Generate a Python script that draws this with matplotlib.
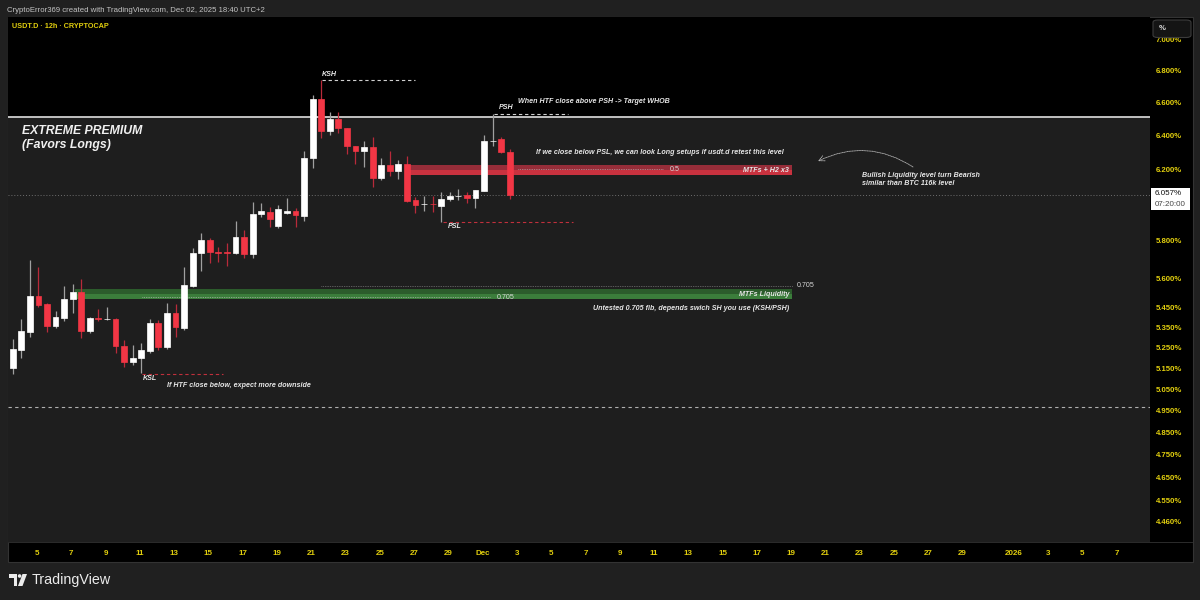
import numpy as np
import matplotlib
matplotlib.use("Agg")
import matplotlib.pyplot as plt
import matplotlib.patches as mpatches
from matplotlib import font_manager
from matplotlib.ticker import FixedLocator, NullLocator, FuncFormatter

# pick a narrow font if there is one (tradingview text is condensed)
names = {f.name for f in font_manager.fontManager.ttflist}
NARROW = 'Liberation Sans Narrow' if 'Liberation Sans Narrow' in names else 'Liberation Sans'

# USDT.D 12h candles, x in days (Nov 1 = 1, Dec 1 = 31, Jan 1 = 62)
t0 = 3 + 2 / 24
opens = [4.985, 5.151, 5.240, 5.327, 5.509, 5.468, 5.357, 5.397, 5.494, 5.530,
         5.332, 5.398, 5.391, 5.392, 5.257, 5.179, 5.199, 5.233, 5.372, 5.253,
         5.422, 5.347, 5.561, 5.735, 5.805, 5.741, 5.740, 5.735, 5.821, 5.730,
         5.945, 5.960, 5.880, 5.955, 5.962, 5.937, 6.267, 6.623, 6.427, 6.500,
         6.445, 6.338, 6.308, 6.332, 6.151, 6.226, 6.191, 6.232, 6.026, 6.002,
         6.006, 5.992, 6.032, 6.048, 6.054, 6.037, 6.077, 6.366, 6.379, 6.302]
highs = [5.160, 5.292, 5.392, 5.697, 5.660, 5.473, 5.432, 5.561, 5.571, 5.597,
         5.402, 5.442, 5.453, 5.397, 5.287, 5.262, 5.272, 5.392, 5.387, 5.473,
         5.468, 5.660, 5.762, 5.843, 5.816, 5.767, 5.789, 5.909, 5.860, 6.015,
         6.010, 5.985, 6.000, 6.040, 5.981, 6.308, 6.647, 6.741, 6.543, 6.543,
         6.445, 6.338, 6.368, 6.391, 6.267, 6.308, 6.256, 6.279, 6.043, 6.049,
         6.049, 6.071, 6.071, 6.088, 6.071, 6.083, 6.403, 6.530, 6.391, 6.320]
lows = [4.980, 5.122, 5.199, 5.302, 5.453, 5.327, 5.347, 5.382, 5.422, 5.297,
        5.322, 5.382, 5.387, 5.223, 5.155, 5.165, 5.127, 5.223, 5.238, 5.243,
        5.302, 5.337, 5.556, 5.639, 5.682, 5.687, 5.666, 5.730, 5.708, 5.708,
        5.930, 5.875, 5.870, 5.950, 5.876, 5.909, 6.209, 6.385, 6.403, 6.415,
        6.291, 6.232, 6.215, 6.100, 6.140, 6.163, 6.145, 6.015, 5.953, 5.964,
        5.959, 5.903, 6.020, 6.026, 6.009, 5.981, 6.077, 6.338, 6.297, 6.032]
closes = [5.151, 5.243, 5.332, 5.509, 5.463, 5.357, 5.402, 5.494, 5.530, 5.332,
          5.397, 5.392, 5.393, 5.257, 5.179, 5.199, 5.238, 5.372, 5.253, 5.422,
          5.352, 5.566, 5.735, 5.805, 5.740, 5.737, 5.736, 5.821, 5.730, 5.948,
          5.962, 5.922, 5.975, 5.965, 5.940, 6.267, 6.623, 6.427, 6.500, 6.445,
          6.338, 6.308, 6.332, 6.151, 6.226, 6.191, 6.232, 6.020, 5.998, 6.004,
          6.002, 6.032, 6.049, 6.050, 6.037, 6.083, 6.368, 6.370, 6.302, 6.057]

price_ticks = [7.0, 6.8, 6.6, 6.4, 6.2, 5.8, 5.6, 5.45, 5.35, 5.25, 5.15,
               5.05, 4.95, 4.85, 4.75, 4.65, 4.55, 4.46]
day_ticks = [5, 7, 9, 11, 13, 15, 17, 19, 21, 23, 25, 27, 29,
             31, 33, 35, 37, 39, 41, 43, 45, 47, 49, 51, 53, 55, 57, 59,
             62, 64, 66, 68]
day_labels = ['5', '7', '9', '11', '13', '15', '17', '19', '21', '23', '25', '27', '29',
              'Dec', '3', '5', '7', '9', '11', '13', '15', '17', '19', '21', '23', '25', '27', '29',
              '2026', '3', '5', '7']

last_price = 6.057
premium_line = 6.512
discount_line = 4.966
ksh, psh, psl, ksl = 6.741, 6.530, 5.903, 5.122
red_zone = (6.171, 6.200, 6.229)
green_zone = (5.496, 5.518, 5.543)
fib_05 = 6.203
fib_705_low, fib_705_high = 5.504, 5.561

W, H = 1200, 600
YEL = '#e2cf0e'
TXT = '#e6e6e6'


def fbox(x0, y0, x1, y1):
    # pixel box (top-left origin) -> figure fraction rect
    return [x0 / W, 1 - y1 / H, (x1 - x0) / W, (y1 - y0) / H]


fig = plt.figure(figsize=(12, 6), dpi=100, facecolor='#202020')

# black pane + axis strips
b = fbox(8, 17, 1193, 562)
fig.patches.append(mpatches.Rectangle((b[0], b[1]), b[2], b[3], transform=fig.transFigure,
                                      facecolor='#000000', edgecolor='#333333', lw=0.8, zorder=-2))
b = fbox(8, 542, 1193, 542.6)
fig.patches.append(mpatches.Rectangle((b[0], b[1]), b[2], b[3], transform=fig.transFigure,
                                      facecolor='#2a2a2a', zorder=-1))

ax = fig.add_axes(fbox(8, 17, 1150, 542), facecolor='#000000')
ax.set_yscale('log')
ax.set_ylim(4.3774, 7.150)
ax.set_xlim(3.308, 69.94)
for s in ax.spines.values():
    s.set_visible(False)

ax.yaxis.tick_right()
ax.yaxis.set_major_locator(FixedLocator(price_ticks))
ax.yaxis.set_minor_locator(NullLocator())
ax.yaxis.set_major_formatter(FuncFormatter(lambda v, p: f'{v:.3f}%'))
ax.tick_params(axis='y', length=0, pad=4.3, labelcolor=YEL, labelsize=5.6)
ax.set_xticks(day_ticks)
ax.set_xticklabels(day_labels)
ax.xaxis.set_minor_locator(NullLocator())
ax.tick_params(axis='x', length=0, pad=5.5, labelcolor=YEL, labelsize=5.8)
for lab in ax.get_xticklabels() + ax.get_yticklabels():
    lab.set_fontfamily(NARROW)
    lab.set_fontweight('bold')

# discount area under the premium line
ax.axhspan(ax.get_ylim()[0], premium_line, color='#1e1e1e', zorder=0, lw=0)
ax.axhline(premium_line, color='#cfcfcf', lw=1.3, zorder=2)
ax.axhline(discount_line, color='#b0b0b0', lw=0.8, ls=(0, (3, 3)), zorder=2)
ax.axhline(last_price, color='#6e6e6e', lw=0.7, ls=(0, (1, 2)), zorder=2)

# zones
ax.fill_between([26.59, 49.05], red_zone[1], red_zone[2], color='#962d39', lw=0, zorder=3)
ax.fill_between([26.59, 49.05], red_zone[0], red_zone[1], color='#c9323f', lw=0, zorder=3)
ax.fill_between([7.22, 49.05], green_zone[1], green_zone[2], color='#2c5c2c', lw=0, zorder=3)
ax.fill_between([7.22, 49.05], green_zone[0], green_zone[1], color='#3b7d3b', lw=0, zorder=3)

# fib levels
dot = (0, (1, 1.5))
ax.hlines(fib_05, 33.06, 41.52, colors='#c8c8c8', lw=0.5, linestyles=dot, zorder=3)
ax.hlines(fib_705_low, 11.13, 31.49, colors='#d0d0d0', lw=0.5, linestyles=dot, zorder=3)
ax.hlines(fib_705_high, 21.57, 49.11, colors='#9a9a9a', lw=0.5, linestyles=dot, zorder=3)

# swing levels
dash = (0, (3, 2.5))
ax.hlines(ksh, 21.63, 27.05, colors='#cfcfcf', lw=0.8, linestyles=dash, zorder=3)
ax.hlines(psh, 31.66, 35.98, colors='#cfcfcf', lw=0.8, linestyles=dash, zorder=3)
ax.hlines(psl, 28.69, 36.27, colors='#c0303c', lw=0.8, linestyles=dash, zorder=3)
ax.hlines(ksl, 11.13, 15.85, colors='#c0303c', lw=0.8, linestyles=dash, zorder=3)

# candles
x = t0 + 0.5 * np.arange(len(opens))
o = np.array(opens)
c = np.array(closes)
up = c >= o
body_col = np.where(up, '#ffffff', '#f23645')
wick_col = np.where(up, '#a0a0a0', '#b82a3a')
ax.vlines(x, lows, highs, colors=wick_col, lw=0.9, zorder=4)
ax.bar(x, np.abs(c - o), bottom=np.minimum(o, c), width=0.34, color=body_col,
       edgecolor=body_col, lw=0.5, zorder=5)

# annotations
note = dict(color=TXT, fontsize=5.15, fontstyle='italic', fontweight='bold', family=NARROW, zorder=6)
ax.text(21.63, 6.779, 'KSH', va='center', ha='left', **note)
ax.text(31.95, 6.573, 'PSH', va='center', ha='left', **note)
ax.text(28.98, 5.876, 'PSL', va='center', ha='left', **note)
ax.text(11.18, 5.098, 'KSL', va='center', ha='left', **note)
ax.text(37.5, 6.610, 'When HTF close above PSH -> Target WHOB', va='center', ha='center', **note)
ax.text(41.35, 6.301, 'If we close below PSL, we can look Long setups if usdt.d retest this level',
        va='center', ha='center', **note)
ax.text(48.87, 6.196, 'MTFs + H2 x3', va='center', ha='right', **note)
ax.text(48.93, 5.519, 'MTFs Liquidity', va='center', ha='right', **note)
ax.text(48.87, 5.446, 'Untested 0.705 fib, depends swich SH you use (KSH/PSH)', va='center', ha='right', **note)
ax.text(12.58, 5.069, 'If HTF close below, expect more downside', va='center', ha='left', **note)
ax.text(53.13, 6.143, 'Bullish Liquidity level turn Bearish\nsimilar than BTC 116k level',
        va='center', ha='left', linespacing=1.05, **note)
fib = dict(color='#d8d8d8', fontsize=5.1, family=NARROW, zorder=6)
ax.text(41.93, fib_05, '0.5', va='center', ha='left', **fib)
ax.text(31.84, 5.500, '0.705', va='center', ha='left', **fib)
ax.text(49.34, fib_705_high, '0.705', va='center', ha='left', **fib)

ax.text(4.125, 6.427, 'EXTREME PREMIUM', color='#f0f0f0', fontsize=8.8, fontstyle='italic',
        fontweight='semibold', family='Liberation Sans', va='center', ha='left', zorder=6)
ax.text(4.125, 6.344, '(Favors Longs)', color='#f0f0f0', fontsize=8.8, fontstyle='italic',
        fontweight='semibold', family='Liberation Sans', va='center', ha='left', zorder=6)

ax.annotate('', xy=(50.57, 6.249), xytext=(56.11, 6.215),
            arrowprops=dict(arrowstyle='->', connectionstyle='arc3,rad=0.28', ls=(0, (1, 1)),
                            color='#b5b5b5', lw=0.6, shrinkA=0, shrinkB=0), zorder=6)

# header
fig.text(7 / W, 1 - 10 / H, 'CryptoError369 created with TradingView.com, Dec 02, 2025 18:40 UTC+2',
         color='#c4c4c4', fontsize=5.6, family='Liberation Sans', va='center', ha='left')
fig.text(12 / W, 1 - 27 / H, 'USDT.D · 12h · CRYPTOCAP', color=YEL, fontsize=5.2,
         family=NARROW, fontweight='bold', va='center', ha='left')

# % button on the price scale
b = fbox(1153, 20, 1191, 37.5)
fig.patches.append(mpatches.FancyBboxPatch((b[0], b[1]), b[2], b[3], transform=fig.transFigure,
                                           boxstyle='round,pad=0,rounding_size=0.004',
                                           facecolor='#141414', edgecolor='#3c3c3c', lw=0.8, zorder=5))
fig.text(1159 / W, 1 - 28.5 / H, '%', color='#d8d8d8', fontsize=5.6, family=NARROW,
         fontweight='bold', va='center', ha='left', zorder=6)

# last price label
b = fbox(1151, 188.5, 1190, 209.5)
fig.patches.append(mpatches.Rectangle((b[0], b[1]), b[2], b[3], transform=fig.transFigure,
                                      facecolor='#ffffff', edgecolor='none', zorder=5))
fig.text(1155 / W, 1 - 194 / H, f'{last_price:.3f}%', color='#111111', fontsize=5.8,
         family=NARROW, va='center', ha='left', zorder=6)
fig.text(1155 / W, 1 - 204 / H, '07:20:00', color='#444444', fontsize=5.8,
         family=NARROW, va='center', ha='left', zorder=6)


# TradingView logo
def px(xx, yy):
    return (xx / W, 1 - yy / H)


logo_col = '#ececec'
fig.patches.append(mpatches.Polygon([px(9, 574), px(17, 574), px(17, 586), px(13.5, 586),
                                     px(13.5, 577.5), px(9, 577.5)], closed=True,
                                    transform=fig.transFigure, facecolor=logo_col, zorder=5))
fig.patches.append(mpatches.Ellipse(px(19.6, 576), 3.6 / W, 3.6 / H, transform=fig.transFigure,
                                    facecolor=logo_col, zorder=5))
fig.patches.append(mpatches.Polygon([px(22.5, 574), px(27, 574), px(22.5, 586), px(18, 586)],
                                    closed=True, transform=fig.transFigure, facecolor=logo_col, zorder=5))
fig.text(32 / W, 1 - 580 / H, 'TradingView', color=logo_col, fontsize=10.3, family='Liberation Sans',
         va='center', ha='left')

fig.savefig('out.png', dpi=100, facecolor=fig.get_facecolor())
